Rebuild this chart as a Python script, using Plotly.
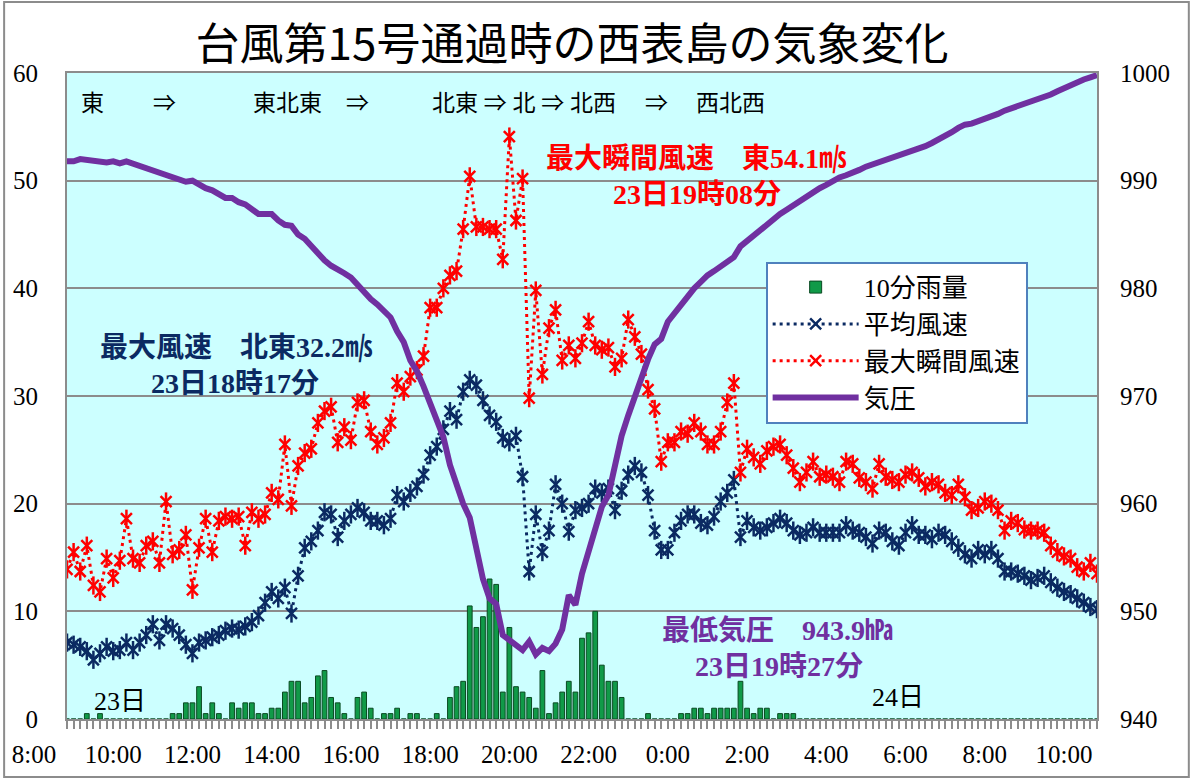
import plotly.graph_objects as go

# ---- data: 10-minute observations, 23日 8:00 -> 24日 10:00 (157 samples) ----
TICK_LABELS = ["8:00", "10:00", "12:00", "14:00", "16:00", "18:00", "20:00",
               "22:00", "0:00", "2:00", "4:00", "6:00", "8:00", "10:00"]

RAIN = [  # 10分雨量 (mm)
    0, 0, 0, 0.5, 0, 0.5, 0, 0, 0, 0, 0, 0,
    0, 0, 0, 0, 0.5, 0.5, 1.5, 1.5, 3.0, 0.5, 1.5, 0.5,
    0, 1.5, 1.0, 1.5, 1.5, 0.5, 0.5, 1.0, 1.0, 2.5, 3.5, 3.5,
    1.5, 2.0, 4.0, 4.5, 2.0, 1.5, 0.5, 0, 2.0, 2.5, 1.0, 0,
    0.5, 0.5, 1.0, 0, 0.5, 0.5, 0, 0, 0.5, 0, 2.0, 3.0,
    3.5, 10.5, 8.5, 9.5, 13.0, 12.5, 2.5, 8.5, 3.0, 2.5, 2.0, 1.0,
    4.5, 0.5, 1.5, 2.5, 3.5, 2.5, 7.5, 8.0, 10.0, 5.0, 3.5, 3.5,
    2.0, 0, 0, 0, 0.5, 0, 0, 0, 0, 0.5, 0.5, 1.0,
    1.0, 0.5, 1.0, 1.0, 1.0, 1.0, 3.5, 1.0, 0.5, 1.0, 1.0, 0,
    0.5, 0.5, 0.5, 0, 0, 0, 0, 0, 0, 0, 0, 0,
    0, 0, 0, 0, 0, 0, 0, 0, 0, 0, 0, 0,
    0, 0, 0, 0, 0, 0, 0, 0, 0, 0, 0, 0,
    0, 0, 0, 0, 0, 0, 0, 0, 0, 0, 0, 0,
    0,
]

AVG_WIND = [  # 平均風速 (m/s)
    7.1, 6.9, 6.7, 6.3, 5.5, 6.1, 6.7, 6.3, 6.4, 7.1, 6.4, 7.1,
    7.8, 8.8, 7.3, 8.8, 8.4, 7.8, 6.9, 6.1, 7.1, 7.3, 7.6, 7.8,
    8.2, 8.4, 8.3, 8.6, 9.0, 9.6, 10.8, 11.8, 11.2, 12.2, 9.8, 13.3,
    15.9, 16.5, 17.5, 19.2, 19.0, 16.9, 18.4, 19.0, 19.6, 19.2, 18.4, 18.4,
    18.0, 18.6, 20.8, 20.2, 21.0, 21.6, 22.7, 24.5, 25.3, 26.9, 28.6, 27.8,
    30.4, 31.5, 31.0, 29.6, 28.2, 27.6, 26.1, 25.7, 26.3, 22.5, 13.7, 19.0,
    15.5, 17.5, 21.8, 20.0, 17.4, 19.4, 19.6, 20.0, 21.4, 21.0, 21.4, 19.4,
    21.2, 22.7, 23.5, 22.9, 20.8, 17.5, 15.7, 15.7, 17.3, 18.4, 19.0, 19.0,
    18.2, 18.0, 18.8, 20.2, 21.0, 22.2, 16.9, 18.4, 17.8, 17.5, 17.8, 18.2,
    18.6, 18.2, 17.5, 17.1, 17.3, 17.8, 17.3, 17.3, 17.3, 17.3, 18.0, 17.5,
    17.3, 16.9, 16.3, 17.5, 17.3, 16.5, 16.1, 17.3, 18.0, 17.1, 17.1, 16.7,
    17.3, 17.1, 16.5, 15.9, 15.3, 14.9, 15.7, 15.3, 15.7, 14.9, 13.7, 13.7,
    13.5, 13.3, 12.9, 13.1, 13.3, 12.7, 12.2, 11.8, 11.6, 11.2, 10.8, 10.4,
    10.2,
]

MAX_GUST = [  # 最大瞬間風速 (m/s)
    13.9, 15.5, 13.7, 16.1, 12.4, 11.8, 14.9, 13.1, 14.7, 18.6, 14.9, 14.5,
    16.1, 16.5, 14.5, 20.2, 15.3, 15.7, 17.1, 12.0, 15.9, 18.6, 15.5, 18.4,
    18.8, 18.6, 18.8, 16.1, 19.2, 18.6, 19.0, 21.0, 20.4, 25.5, 19.8, 23.5,
    24.7, 25.1, 27.5, 28.6, 29.0, 25.7, 27.1, 25.9, 29.4, 29.6, 26.7, 25.5,
    26.1, 27.5, 31.2, 30.4, 31.8, 32.4, 33.7, 38.2, 38.2, 40.0, 41.2, 41.6,
    45.5, 50.4, 45.7, 45.7, 45.5, 45.5, 42.7, 54.1, 46.3, 50.2, 29.8, 39.8,
    32.0, 36.3, 38.0, 33.3, 34.7, 33.5, 34.9, 36.9, 34.7, 34.3, 34.5, 32.7,
    33.5, 37.1, 35.5, 33.9, 30.6, 28.8, 23.9, 25.7, 25.7, 26.7, 26.5, 27.5,
    26.7, 25.5, 25.5, 26.7, 29.4, 31.2, 22.9, 25.1, 24.3, 23.7, 24.9, 25.3,
    25.5, 24.5, 23.3, 22.0, 22.9, 23.9, 22.5, 22.7, 22.5, 22.0, 23.9, 23.7,
    22.4, 22.0, 21.4, 23.7, 22.5, 22.2, 22.0, 22.7, 22.9, 22.4, 21.6, 22.0,
    21.8, 21.0, 20.8, 21.8, 20.6, 19.4, 19.6, 20.2, 20.0, 19.4, 17.5, 18.4,
    18.2, 17.6, 17.5, 17.5, 17.3, 16.1, 15.5, 15.1, 14.9, 14.1, 13.7, 14.5,
    13.5,
]

PRESSURE = [  # 気圧 (hPa)
    991.8, 991.8, 992.0, 991.9, 991.8, 991.8, 991.7, 991.8, 991.6, 991.8, 991.6, 991.4,
    991.2, 991.0, 990.8, 990.6, 990.4, 990.1, 989.9, 990.0, 989.6, 989.3, 989.1, 988.8,
    988.4, 988.4, 988.0, 987.8, 987.3, 986.9, 986.9, 986.9, 986.3, 985.9, 985.8, 985.0,
    984.6, 983.9, 983.4, 982.6, 982.1, 981.8, 981.4, 981.0, 980.3, 979.6, 979.0, 978.5,
    977.9, 977.3, 976.0, 975.0, 973.3, 972.3, 970.9, 969.3, 967.9, 966.2, 963.6, 961.8,
    960.0, 958.7, 955.5, 953.0, 951.2, 950.7, 947.8, 947.3, 946.8, 946.4, 947.2, 946.0,
    946.6, 946.3, 947.0, 948.3, 951.5, 950.6, 953.5, 955.5, 957.8, 959.7, 960.8, 963.4,
    966.3, 968.2, 970.0, 971.9, 973.4, 974.8, 975.3, 976.9, 977.7, 978.4, 979.1, 980.0,
    980.6, 981.2, 981.6, 982.0, 982.4, 982.9, 983.9, 984.4, 985.0, 985.5, 985.9, 986.4,
    986.9, 987.3, 987.7, 988.2, 988.6, 989.0, 989.3, 989.6, 990.0, 990.3, 990.5, 990.7,
    991.0, 991.3, 991.5, 991.8, 992.0, 992.2, 992.4, 992.5, 992.7, 993.0, 993.2, 993.5,
    993.8, 994.1, 994.5, 994.9, 995.2, 995.3, 995.5, 995.7, 996.0, 996.2, 996.5, 996.7,
    997.0, 997.2, 997.4, 997.5, 997.7, 998.0, 998.3, 998.6, 998.8, 999.1, 999.4, 999.6,
    999.8,
]

X = list(range(len(PRESSURE)))

NAVY = "#0b2a62"
RED = "#ff0000"
PURPLE = "#7030a0"
GRID = "#8c8c8c"
SERIF = "Liberation Serif, Noto Sans CJK JP"
JP = "Liberation Serif, Noto Sans CJK JP"

fig = go.Figure()

fig.add_trace(go.Bar(
    x=X, y=RAIN, name="10分雨量", width=0.72,
    marker=dict(color="#109a48", line=dict(color="#0a4a22", width=1)),
))
fig.add_trace(go.Scatter(
    x=X, y=AVG_WIND, name="平均風速", mode="lines+markers",
    line=dict(color=NAVY, width=3, dash="3px,4px"),
    marker=dict(symbol="x-thin-open", size=11, color=NAVY,
                line=dict(color=NAVY, width=2.5)),
))
fig.add_trace(go.Scatter(
    x=X, y=AVG_WIND, mode="markers", showlegend=False, hoverinfo="skip",
    marker=dict(symbol="line-ns-open", size=13, color=NAVY,
                line=dict(color=NAVY, width=2.5)),
))
fig.add_trace(go.Scatter(
    x=X, y=MAX_GUST, name="最大瞬間風速", mode="lines+markers",
    line=dict(color=RED, width=3, dash="3px,4px"),
    marker=dict(symbol="x-thin-open", size=11, color=RED,
                line=dict(color=RED, width=2.5)),
))
fig.add_trace(go.Scatter(
    x=X, y=MAX_GUST, mode="markers", showlegend=False, hoverinfo="skip",
    marker=dict(symbol="line-ns-open", size=13, color=RED,
                line=dict(color=RED, width=2.5)),
))
fig.add_trace(go.Scatter(
    x=X, y=PRESSURE, name="気圧", mode="lines", yaxis="y2",
    line=dict(color=PURPLE, width=6),
))

def ann(text, x, y, color, size, bold=False):
    fig.add_annotation(
        text=f"<b>{text}</b>" if bold else text, x=x, y=y, xref="x", yref="y",
        showarrow=False, xanchor="center", yanchor="middle",
        font=dict(family=JP, size=size, color=color),
    )

# wind direction
for txt, xi in [("東", 3.9), ("⇒", 14.8), ("東北東", 33.4), ("⇒", 44.0),
                ("北東 ⇒ 北 ⇒ 北西", 69.2), ("⇒", 89.3), ("西北西", 100.5)]:
    ann(txt, xi, 57.2, "black", 23)

ann("最大瞬間風速　東54.1㎧", 95.3, 52.1, RED, 28, True)
ann("23日19時08分", 95.4, 48.7, RED, 28, True)
ann("最大風速　北東32.2㎧", 25.7, 34.5, NAVY, 28, True)
ann("23日18時17分", 25.5, 31.2, NAVY, 28, True)
ann("最低気圧　943.9㍱", 107.6, 8.2, PURPLE, 28, True)
ann("23日19時27分", 107.8, 4.9, PURPLE, 28, True)
ann("23日", 8.0, 1.6, "black", 26)
ann("24日", 125.8, 2.0, "black", 26)

tickfont = dict(family=SERIF, size=25, color="black")

fig.update_layout(
    width=1191, height=780,
    margin=dict(l=65, r=94, t=73, b=60),
    paper_bgcolor="white", plot_bgcolor="#ccffff",
    title=dict(text="台風第15号通過時の西表島の気象変化", x=572 / 1191, xref="container",
               xanchor="center", y=1 - 45 / 780, yref="container", yanchor="middle",
               font=dict(family="Noto Sans CJK JP", size=44, color="black")),
    legend=dict(x=(765 - 65) / 1032, y=(720 - 262) / 647, xanchor="left", yanchor="top",
                bgcolor="white", bordercolor="#4f81bd", borderwidth=2,
                font=dict(family=JP, size=26, color="black"), itemwidth=86,
                tracegroupgap=0),
    xaxis=dict(range=[0, len(X) - 1], tickmode="array",
               tickvals=list(range(0, len(X), 12)), ticktext=TICK_LABELS,
               ticks="outside", ticklen=8, tickcolor=GRID, tickwidth=1.5,
               minor=dict(dtick=1, tick0=0, ticks="outside", ticklen=8,
                          tickcolor=GRID, tickwidth=1.5),
               showline=True, mirror=True, linecolor=GRID, linewidth=2,
               showgrid=False, zeroline=False, ticklabelshift=-33,
               ticklabelstandoff=4, tickfont=tickfont),
    yaxis=dict(range=[0, 60], dtick=10, showgrid=True, gridcolor=GRID, gridwidth=2,
               showline=True, mirror=True, linecolor=GRID, linewidth=2,
               zeroline=False, ticks="", ticklabelstandoff=22, tickfont=tickfont),
    yaxis2=dict(range=[940, 1000], dtick=10, overlaying="y", side="right",
                showgrid=False, zeroline=False, showline=False, ticks="",
                ticklabelstandoff=22, tickfont=tickfont),
    bargap=0.3,
)

# outer chart frame
fig.add_shape(type="rect", xref="paper", yref="paper",
              x0=(2 - 65) / 1032, x1=(1189 - 65) / 1032,
              y0=(720 - 778) / 647, y1=(720 - 2) / 647,
              line=dict(color=GRID, width=2), layer="below")

fig.write_html("out.html")
